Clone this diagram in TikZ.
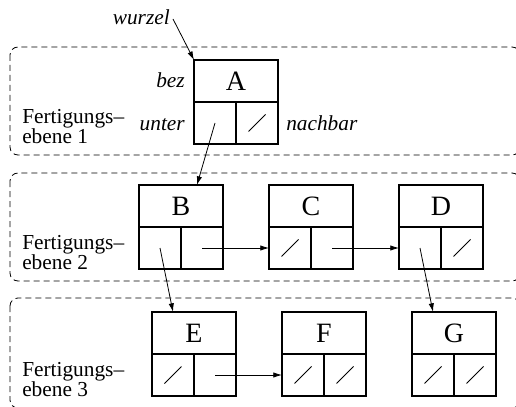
\documentclass[tikz,border=0pt]{standalone}
\usepackage{fontspec}
\setmainfont{Liberation Serif}
\usetikzlibrary{arrows.meta,calc}
\newcommand\lbox[4]{%
  \node[topcell,anchor=north west] (#1) at (#2,#3) {#4};
  \node[botcell,anchor=north west] (#1u) at (#1.south west) {};
  \node[botcell,anchor=north east] (#1n) at (#1.south east) {};
}
\newcommand\nilmark[1]{\draw[nil] (#1.center) +(-8.5,8.5) -- +(8.5,-8.5);}
\begin{document}
\begin{tikzpicture}[x=0.75pt,y=-0.75pt,
 topcell/.style={draw,line width=0.9pt,minimum width=63pt,minimum height=31.5pt,inner sep=0pt,outer sep=0pt,font=\fontsize{21}{22}\selectfont},
 botcell/.style={draw,line width=0.9pt,minimum width=31.5pt,minimum height=31.5pt,inner sep=0pt,outer sep=0pt},
 lab/.style={inner sep=0pt,font=\fontsize{16}{15}\selectfont\itshape},
 lvl/.style={inner sep=0pt,align=left,font=\fontsize{16}{15}\selectfont},
 region/.style={dash pattern=on 4.5pt off 3pt,line width=0.6pt,rounded corners=6pt},
 arr/.style={line width=0.6pt,-{Latex[length=6.5pt,width=4pt]}},
 nil/.style={line width=0.6pt}]
\useasboundingbox (0,0) rectangle (516,406);
\begin{scope}
\clip (0,0) rectangle (516,406);
\draw[region] (10,47) rectangle (520,155);
\draw[region] (10,173) rectangle (520,281);
\draw[region] (10,298) rectangle (520,408);
\end{scope}
% level labels
\node[lvl,anchor=base west] (L1) at (22,143) {Fertigungs--\\ebene 1};
\node[lvl,anchor=base west] (L2) at (22,269) {Fertigungs--\\ebene 2};
\node[lvl,anchor=base west] (L3) at (22,396) {Fertigungs--\\ebene 3};
% boxes
\lbox{A}{194}{60}{A}
\lbox{B}{139}{185}{B}
\lbox{C}{269}{185}{C}
\lbox{D}{399}{185}{D}
\lbox{E}{152}{312}{E}
\lbox{F}{282}{312}{F}
\lbox{G}{412}{312}{G}
\nilmark{An}
\nilmark{Cu}
\nilmark{Dn}
\nilmark{Eu}
\nilmark{Fu}
\nilmark{Fn}
\nilmark{Gu}
\nilmark{Gn}
% labels
\node[lab,anchor=base east] (wz) at (170,25) {wurzel};
\node[lab,anchor=base east] (bez) at (185,88) {bez};
\node[lab,anchor=base east] (unter) at (185,130) {unter};
\node[lab,anchor=base west] (nach) at (286,130) {nachbar};
% connectors
\coordinate (wzs) at (173,19);
\draw[arr] (wzs) -- (A.north west);
\draw[arr] (Au.center) -- ($(B.north west)!0.69!(B.north east)$);
\draw[arr] (Bu.center) -- ($(E.north west)!0.25!(E.north east)$);
\draw[arr] (Du.center) -- ($(G.north west)!0.25!(G.north east)$);
\draw[arr] (Bn.center) -- (Cu.west);
\draw[arr] (Cn.center) -- (Du.west);
\draw[arr] (En.center) -- (Fu.west);
\end{tikzpicture}
\end{document}
